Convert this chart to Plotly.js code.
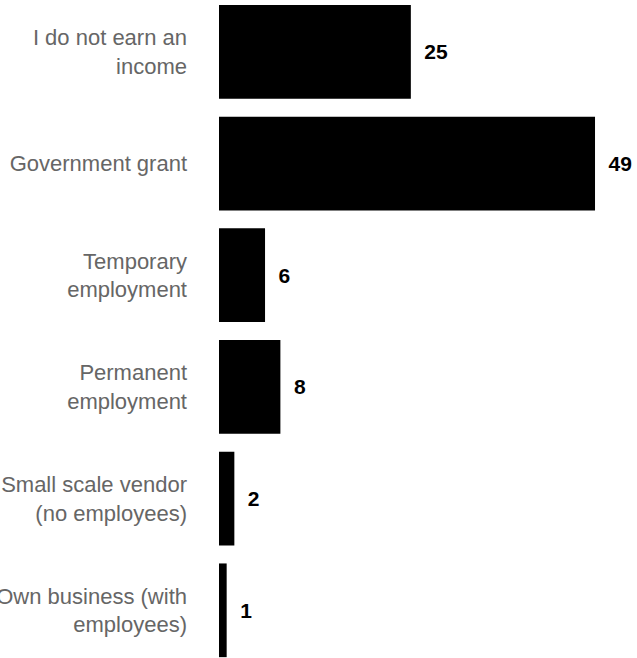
<!DOCTYPE html>
<html>
<head>
<meta charset="utf-8">
<script src="https://cdn.plot.ly/plotly-3.0.1.min.js"></script>
<style>html,body{margin:0;padding:0;background:#fff;}#chart{width:637px;height:658px;}</style>
</head>
<body>
<div id="chart"></div>
<script>
const categories = [
  "I do not earn an<br>income",
  "Government grant",
  "Temporary<br>employment",
  "Permanent<br>employment",
  "Small scale vendor<br>(no employees)",
  "Own business (with<br>employees)"
];
const values = [25, 49, 6, 8, 2, 1];
const valueLabels = ["25", "49", "6", "8", "2", "1"];

const trace = {
  type: "bar",
  orientation: "h",
  y: categories,
  x: values,
  text: valueLabels.map(function(t){ return "\u2002" + t; }),
  textposition: "outside",
  cliponaxis: false,
  textfont: {family: "Liberation Sans, Arial, sans-serif", size: 21, color: "#000", weight: "bold"},
  marker: {color: "#000000", line: {width: 0}},
  hoverinfo: "none"
};

const layout = {
  width: 637,
  height: 658,
  margin: {l: 219, r: 0, t: 0, b: 0, pad: 0},
  paper_bgcolor: "#ffffff",
  plot_bgcolor: "#ffffff",
  showlegend: false,
  bargap: 0.161,
  xaxis: {
    range: [0, 54.47],
    visible: false,
    showgrid: false,
    zeroline: false
  },
  yaxis: {
    type: "category",
    range: [5.427, -0.464],
    showgrid: false,
    zeroline: false,
    showline: false,
    ticks: "",
    ticklabelstandoff: 31,
    tickfont: {family: "Liberation Sans, Arial, sans-serif", size: 22, color: "#666666"}
  }
};

Plotly.newPlot("chart", [trace], layout, {staticPlot: true, displayModeBar: false});
</script>
</body>
</html>
